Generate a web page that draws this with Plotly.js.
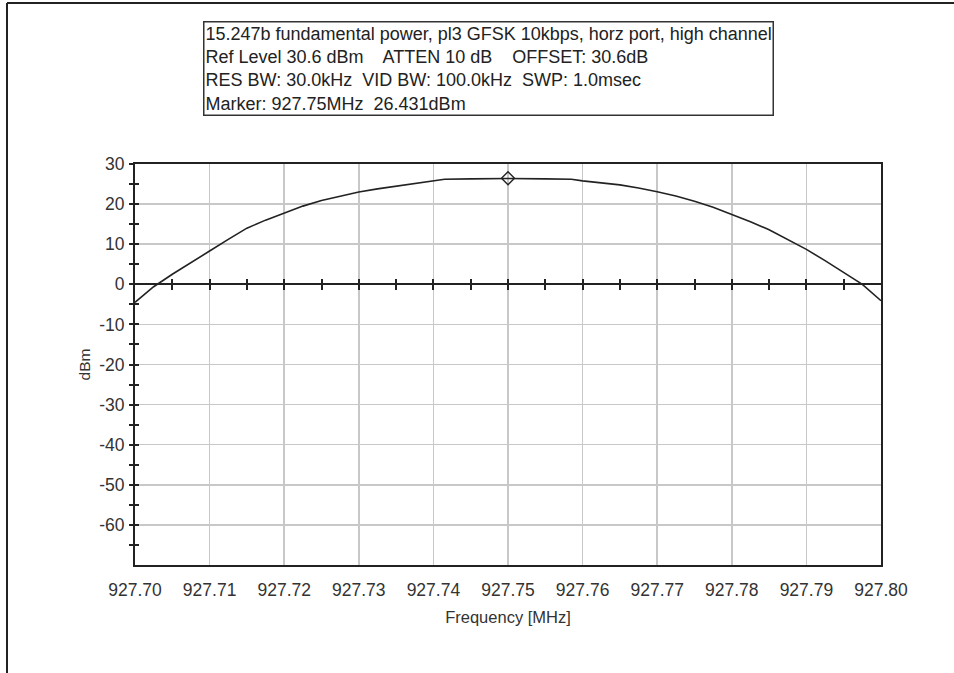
<!DOCTYPE html>
<html>
<head>
<meta charset="utf-8">
<script src="https://cdn.plot.ly/plotly-3.0.1.min.js"></script>
<style>html,body{margin:0;padding:0;background:#fff;}#chart{width:954px;height:673px;}</style>
</head>
<body>
<div id="chart"></div>
<script>
// Frequency (MHz) and level (dBm)
const freqMHz = [927.700, 927.7025, 927.705, 927.7075, 927.710, 927.7125, 927.715, 927.7175, 927.720, 927.7225,
  927.725, 927.7275, 927.730, 927.7325, 927.735, 927.7375, 927.740, 927.7415, 927.745, 927.750,
  927.755, 927.7585, 927.760, 927.7625, 927.765, 927.7675, 927.770, 927.7725, 927.775, 927.7775,
  927.780, 927.7825, 927.785, 927.7875, 927.790, 927.7925, 927.795, 927.7975, 927.800];
const levelDBm = [-4.5, -0.6, 2.5, 5.5, 8.3, 11.2, 14.0, 16.0, 17.8, 19.5,
  20.9, 22.0, 23.0, 23.8, 24.5, 25.2, 25.9, 26.2, 26.3, 26.4,
  26.3, 26.2, 25.8, 25.3, 24.8, 24.0, 23.1, 22.0, 20.7, 19.2,
  17.5, 15.6, 13.6, 11.2, 8.7, 5.9, 2.9, 0.0, -4.1];

const markerFreq = [927.75];
const markerLevel = [26.431];

const xTickVals = [927.70, 927.71, 927.72, 927.73, 927.74, 927.75, 927.76, 927.77, 927.78, 927.79, 927.80];
const xTickText = ["927.70", "927.71", "927.72", "927.73", "927.74", "927.75", "927.76", "927.77", "927.78", "927.79", "927.80"];
const zeroLineTicks = [927.705, 927.71, 927.715, 927.72, 927.725, 927.73, 927.735, 927.74, 927.745, 927.75,
  927.755, 927.76, 927.765, 927.77, 927.775, 927.78, 927.785, 927.79, 927.795];
const yTickVals = [30, 20, 10, 0, -10, -20, -30, -40, -50, -60];
const yTickText = ["30", "20", "10", "0", "-10", "-20", "-30", "-40", "-50", "-60"];
const yMinorVals = [25, 15, 5, -5, -15, -25, -35, -45, -55, -65];

const headerLines = [
  "15.247b fundamental power, pl3 GFSK 10kbps, horz port, high channel",
  "Ref Level 30.6 dBm    ATTEN 10 dB    OFFSET: 30.6dB",
  "RES BW: 30.0kHz  VID BW: 100.0kHz  SWP: 1.0msec",
  "Marker: 927.75MHz  26.431dBm"
];

const ink = '#222';
const grid = '#c8c8c8';
const font = 'Liberation Sans, Arial, sans-serif';

const traces = [
  {x: freqMHz, y: levelDBm, type: 'scatter', mode: 'lines', line: {color: ink, width: 1.6}, xaxis: 'x', yaxis: 'y', hoverinfo: 'skip'},
  {x: markerFreq, y: markerLevel, type: 'scatter', mode: 'markers',
   marker: {symbol: 'diamond-open', size: 10, color: ink, line: {width: 1.4, color: ink}}, xaxis: 'x', yaxis: 'y'},
  {x: [927.70], y: [0], mode: 'markers', marker: {opacity: 0}, xaxis: 'x2', yaxis: 'y', hoverinfo: 'skip'},
  {x: [927.70], y: [0], mode: 'markers', marker: {opacity: 0}, xaxis: 'x3', yaxis: 'y', hoverinfo: 'skip'},
  {x: [927.70], y: [0], mode: 'markers', marker: {opacity: 0}, xaxis: 'x', yaxis: 'y2', hoverinfo: 'skip'}
];

const L = 135, R = 881, T = 164, B = 565;
const px = v => (v - L) / (R - L);
const py = v => (B - v) / (B - T);

const layout = {
  width: 954, height: 673,
  margin: {l: L, r: 954 - R, t: T, b: 673 - B},
  paper_bgcolor: '#fff', plot_bgcolor: '#fff',
  showlegend: false,
  font: {family: font, color: '#222', size: 15},
  xaxis: {
    range: [927.70, 927.80], tickvals: xTickVals, ticktext: xTickText,
    showgrid: true, gridcolor: grid, gridwidth: 1.5, zeroline: false,
    showline: true, mirror: true, linecolor: ink, linewidth: 2, ticks: '',
    tickfont: {size: 17.5, family: font, color: '#333'}, ticklabelstandoff: 8,
    title: {text: 'Frequency [MHz]', font: {size: 16.5, family: font, color: '#333'}, standoff: 12}
  },
  xaxis2: {
    overlaying: 'x', anchor: 'free', position: 0.7, range: [927.70, 927.80],
    tickvals: zeroLineTicks, ticks: 'outside', ticklen: 5, tickwidth: 2, tickcolor: ink,
    showticklabels: false, showgrid: false, zeroline: false, showline: true, linecolor: ink, linewidth: 2
  },
  xaxis3: {
    overlaying: 'x', anchor: 'free', position: 0.7, range: [927.70, 927.80],
    tickvals: zeroLineTicks, ticks: 'inside', ticklen: 5, tickwidth: 2, tickcolor: ink,
    showticklabels: false, showgrid: false, zeroline: false, showline: false
  },
  yaxis: {
    range: [-70, 30], tickvals: yTickVals, ticktext: yTickText,
    showgrid: true, gridcolor: grid, gridwidth: 1.5, zeroline: false,
    showline: true, mirror: true, linecolor: ink, linewidth: 2,
    ticks: 'outside', ticklen: 4, tickwidth: 2, tickcolor: ink,
    minor: {tickvals: yMinorVals, ticks: 'outside', ticklen: 4, tickwidth: 2, tickcolor: ink, showgrid: false},
    tickfont: {size: 17.5, family: font, color: '#333'}, ticklabelstandoff: 1,
    title: {text: 'dBm', font: {size: 15.5, family: font, color: '#333'}, standoff: 5}
  },
  yaxis2: {
    overlaying: 'y', anchor: 'x', side: 'left', range: [-70, 30],
    tickvals: yTickVals, ticks: 'inside', ticklen: 4, tickwidth: 2, tickcolor: ink,
    minor: {tickvals: yMinorVals, ticks: 'inside', ticklen: 4, tickwidth: 2, tickcolor: ink, showgrid: false},
    showticklabels: false, showgrid: false, zeroline: false, showline: false
  },
  annotations: [{
    xref: 'paper', yref: 'paper', x: px(203), y: py(21), xanchor: 'left', yanchor: 'top',
    text: headerLines.join('<br>'), align: 'left', showarrow: false,
    font: {size: 18, family: font, color: '#222'},
    bordercolor: '#333', borderwidth: 1.5, borderpad: 1, bgcolor: '#fff'
  }],
  shapes: [
    {type: 'line', xref: 'paper', yref: 'paper', x0: px(7), x1: px(954), y0: py(3), y1: py(3), line: {color: '#222', width: 2}},
    {type: 'line', xref: 'paper', yref: 'paper', x0: px(7), x1: px(7), y0: py(3), y1: py(673), line: {color: '#222', width: 2}}
  ]
};

Plotly.newPlot('chart', traces, layout, {displayModeBar: false, staticPlot: true});
</script>
</body>
</html>
